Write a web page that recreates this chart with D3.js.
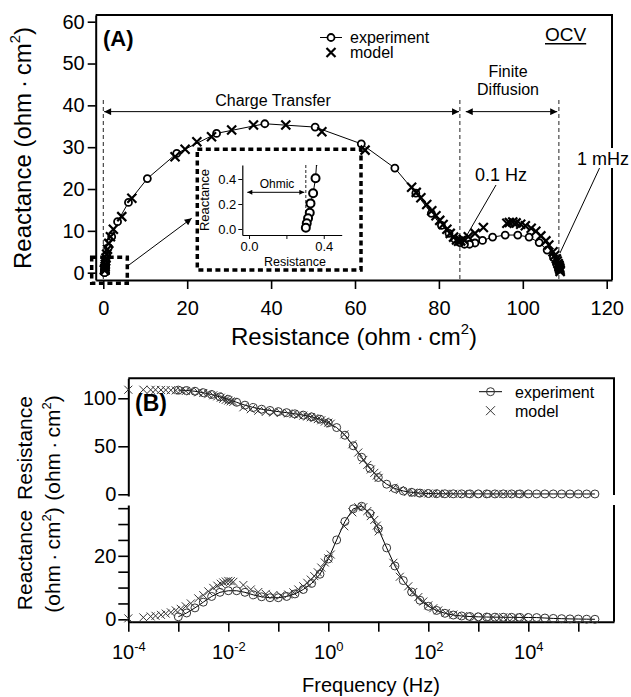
<!DOCTYPE html>
<html>
<head>
<meta charset="utf-8">
<script src="https://cdn.jsdelivr.net/npm/d3@7"></script>
<style>
  body { margin: 0; background: #fff; }
  svg { font-family: "Liberation Sans", Arial, sans-serif; }
</style>
</head>
<body>
<svg id="chart" width="631" height="697"></svg>
<script>
// experiment: frequency (Hz), resistance and reactance (ohm·cm2)
const expFreq = [0.001, 0.00147, 0.00215, 0.00316, 0.00464, 0.00681, 0.01, 0.0147, 0.0215, 0.0316,
  0.0464, 0.0681, 0.1, 0.147, 0.215, 0.316, 0.464, 0.681, 1, 1.47,
  2.15, 3.16, 4.64, 6.81, 10, 14.7, 21.5, 31.6, 46.4, 68.1,
  100, 147, 215, 316, 464, 681, 1000, 1470, 2150, 3160,
  4640, 6810, 10000, 14700, 21500, 31600, 46400, 68100, 100000, 147000, 215000];
const expRes = [108.5, 108.1, 107.3, 105.8, 103.9, 101.5, 98.8, 95.8, 92.8, 90.4,
  88.6, 87.3, 86.1, 85.0, 83.8, 82.4, 80.6, 78.2, 74.5, 69.5,
  61.5, 50.5, 38.5, 27.0, 17.5, 10.5, 6.0, 3.4, 2.0, 1.2,
  0.8, 0.6, 0.5, 0.45, 0.42, 0.4, 0.39, 0.385, 0.38, 0.375,
  0.372, 0.37, 0.367, 0.363, 0.356, 0.343, 0.329, 0.325, 0.316, 0.309, 0.304];
const expReac = [0.8, 2.0, 3.6, 5.4, 7.2, 8.5, 9.0, 9.0, 8.5, 7.7,
  7.1, 6.8, 6.8, 7.2, 8.0, 9.4, 11.3, 14.2, 19.0, 25.0,
  30.8, 34.8, 35.6, 33.3, 28.5, 22.5, 16.8, 12.2, 8.6, 6.0,
  4.1, 2.8, 1.9, 1.35, 1.05, 0.88, 0.78, 0.72, 0.68, 0.65,
  0.62, 0.6, 0.58, 0.55, 0.406, 0.286, 0.205, 0.13, 0.086, 0.046, 0.01];

// model
const modelFreq = [0.0001, 0.0002, 0.00028, 0.00035, 0.00045, 0.00056, 0.00071, 0.00089, 0.00112, 0.00141,
  0.00178, 0.00251, 0.00316, 0.00398, 0.00501, 0.00603, 0.00708, 0.00794, 0.00891, 0.01,
  0.0112, 0.0126, 0.02, 0.0282, 0.0398, 0.0562, 0.0794, 0.112, 0.158, 0.2,
  0.251, 0.316, 0.38, 0.447, 0.525, 0.617, 0.724, 0.851, 1, 1.12,
  2.09, 3.02, 3.98, 5.01, 6.03, 7.08, 8.32, 9.33, 10.2, 20,
  26.9, 39.8, 50.1, 63.1, 79.4, 100, 126, 158, 224, 316,
  501, 794, 1259, 1995, 3162, 5012, 7943];
const modelRes = [108.9, 108.9, 108.8, 108.8, 108.7, 108.6, 108.4, 108.2, 108.0, 107.6,
  107.2, 106.2, 105.5, 104.3, 103.1, 102.0, 100.6, 99.5, 98.4, 97.6,
  96.8, 96.2, 90.6, 88.6, 87.0, 85.8, 85.2, 84.7, 84.2, 83.5,
  82.7, 81.9, 81.0, 80.2, 79.3, 78.3, 77.1, 75.7, 74.6, 73.5,
  62.4, 52.1, 43.5, 35.8, 30.6, 25.8, 22.3, 19.5, 17.1, 6.8,
  4.4, 2.4, 1.7, 1.3, 1.0, 0.8, 0.65, 0.56, 0.48, 0.43,
  0.4, 0.38, 0.37, 0.36, 0.36, 0.36, 0.36];
const modelReac = [0.3, 0.6, 0.9, 1.1, 1.4, 1.8, 2.2, 2.8, 3.3, 4.1,
  5.0, 6.6, 7.6, 8.8, 9.9, 10.6, 11.2, 11.6, 11.9, 12.1,
  12.0, 11.8, 10.8, 9.4, 8.6, 8.0, 7.6, 7.5, 7.8, 8.5,
  9.4, 10.4, 11.5, 12.5, 13.6, 14.8, 16.3, 17.9, 19.2, 20.4,
  29.3, 33.7, 35.3, 35.3, 34.1, 32.5, 31.3, 29.5, 27.7, 17.8,
  13.4, 10.4, 8.6, 7.0, 5.6, 4.4, 3.5, 2.8, 2.0, 1.5,
  1.05, 0.85, 0.75, 0.68, 0.64, 0.61, 0.59];

const xTicksA = [0, 20, 40, 60, 80, 100, 120];
const yTicksA = [0, 10, 20, 30, 40, 50, 60];
const insetTicks = [0, 0.2, 0.4];
const freqTicks = [1e-4, 1e-3, 1e-2, 1e-1, 1, 10, 100, 1e3, 1e4, 1e5];
const resTicksB = [0, 50, 100];
const reacTicksB = [0, 5, 10, 15, 20, 25, 30, 35];

const expPts = expFreq.map((f, i) => ({ f: f, r: expRes[i], x: expReac[i] }));
const modelPts = modelFreq.map((f, i) => ({ f: f, r: modelRes[i], x: modelReac[i] }));

const svg = d3.select("#chart");
const defs = svg.append("defs");
defs.append("marker").attr("id", "head")
  .attr("viewBox", "0 0 10 10").attr("refX", 10).attr("refY", 5)
  .attr("markerUnits", "userSpaceOnUse")
  .attr("markerWidth", 11).attr("markerHeight", 7)
  .attr("orient", "auto-start-reverse")
  .append("path").attr("d", "M0,0L10,5L0,10z").attr("fill", "#000");
defs.append("marker").attr("id", "headSmall")
  .attr("viewBox", "0 0 10 10").attr("refX", 10).attr("refY", 5)
  .attr("markerUnits", "userSpaceOnUse")
  .attr("markerWidth", 7).attr("markerHeight", 5)
  .attr("orient", "auto-start-reverse")
  .append("path").attr("d", "M0,0L10,5L0,10z").attr("fill", "#000");

function unitLabel(t, sup) {
  t.append("tspan").text("(ohm\u2009·\u2009cm");
  t.append("tspan").attr("dy", -sup).attr("font-size", "0.62em").text("2");
  t.append("tspan").attr("dy", sup).text(")");
}
function styleAxis(g, fs, w) {
  g.select(".domain").attr("stroke-width", w);
  g.selectAll(".tick line").attr("stroke-width", w * 0.8);
  g.selectAll(".tick text").attr("font-size", fs).attr("fill", "#000");
}
const crossPath = s => `M${-s},${-s}L${s},${s}M${-s},${s}L${s},${-s}`;

// ---------------- panel A : Nyquist ----------------
const xA = d3.scaleLinear([-1.81, 121.26], [95.7, 612]);
const yA = d3.scaleLinear([-1.75, 61.6], [280, 15]);

const gA = svg.append("g");
gA.append("g").attr("transform", "translate(0,280)")
  .call(d3.axisBottom(xA).tickValues(xTicksA).tickSize(9).tickSizeOuter(0).tickPadding(12))
  .call(g => styleAxis(g, 20, 2));
gA.append("g").attr("transform", "translate(95.7,0)")
  .call(d3.axisLeft(yA).tickValues(yTicksA).tickSize(8).tickSizeOuter(0).tickPadding(3))
  .call(g => styleAxis(g, 20, 2));
gA.append("path").attr("d", "M95.7,15H612V280").attr("fill", "none").attr("stroke", "#000").attr("stroke-width", 2);

gA.append("text").attr("x", 354).attr("y", 345).attr("text-anchor", "middle").attr("font-size", 24)
  .call(t => { t.append("tspan").text("Resistance "); unitLabel(t, 11); });
gA.append("text").attr("transform", "translate(31,148) rotate(-90)").attr("text-anchor", "middle").attr("font-size", 24)
  .call(t => { t.append("tspan").text("Reactance "); unitLabel(t, 11); });

// dashed region markers and arrows
[0, 85, 108.6].forEach(v => {
  gA.append("line").attr("x1", xA(v)).attr("x2", xA(v)).attr("y1", 100).attr("y2", 280)
    .attr("stroke", "#222").attr("stroke-dasharray", "4,3");
});
gA.append("line").attr("x1", xA(0.2)).attr("x2", xA(84.8)).attr("y1", yA(38.5)).attr("y2", yA(38.5))
  .attr("stroke", "#000").attr("marker-start", "url(#head)").attr("marker-end", "url(#head)");
gA.append("line").attr("x1", xA(86.4)).attr("x2", xA(108.2)).attr("y1", yA(38.5)).attr("y2", yA(38.5))
  .attr("stroke", "#000").attr("marker-start", "url(#head)").attr("marker-end", "url(#head)");
gA.append("text").attr("x", 273).attr("y", 106).attr("text-anchor", "middle").attr("font-size", 16).text("Charge Transfer");
gA.append("text").attr("x", 508).attr("y", 77).attr("text-anchor", "middle").attr("font-size", 16).text("Finite");
gA.append("text").attr("x", 508).attr("y", 95).attr("text-anchor", "middle").attr("font-size", 16).text("Diffusion");

// data
gA.append("path").datum(expPts)
  .attr("d", d3.line().x(d => xA(d.r)).y(d => yA(d.x)))
  .attr("fill", "none").attr("stroke", "#000").attr("stroke-width", 1);
gA.append("g").selectAll("circle").data(expPts).join("circle")
  .attr("cx", d => xA(d.r)).attr("cy", d => yA(d.x)).attr("r", 3.5)
  .attr("fill", "#fff").attr("stroke", "#000").attr("stroke-width", 1.8);
gA.append("g").selectAll("path").data(modelPts).join("path")
  .attr("transform", d => `translate(${xA(d.r)},${yA(d.x)})`)
  .attr("d", crossPath(4.5)).attr("stroke", "#000").attr("stroke-width", 2.2).attr("fill", "none");

// labels for frequencies
gA.append("line").attr("x1", 496).attr("y1", 185).attr("x2", 467).attr("y2", 235).attr("stroke", "#000");
gA.append("text").attr("x", 501).attr("y", 180.5).attr("text-anchor", "middle").attr("font-size", 18).text("0.1 Hz");
gA.append("line").attr("x1", 600).attr("y1", 167).attr("x2", 560).attr("y2", 253).attr("stroke", "#000");
gA.append("rect").attr("x", 575).attr("y", 148).attr("width", 56).attr("height", 20).attr("fill", "#fff");
gA.append("text").attr("x", 577).attr("y", 164.5).attr("font-size", 18).text("1 mHz");

// legend + labels
gA.append("text").attr("x", 103).attr("y", 46).attr("font-size", 22).attr("font-weight", "bold").text("(A)");
gA.append("line").attr("x1", 320).attr("x2", 342).attr("y1", 37.5).attr("y2", 37.5).attr("stroke", "#000");
gA.append("circle").attr("cx", 331).attr("cy", 37.5).attr("r", 3.5).attr("fill", "#fff").attr("stroke", "#000").attr("stroke-width", 1.8);
gA.append("text").attr("x", 350).attr("y", 42.5).attr("font-size", 16).text("experiment");
gA.append("path").attr("transform", "translate(331,52.5)").attr("d", crossPath(4.5)).attr("stroke", "#000").attr("stroke-width", 2.2);
gA.append("text").attr("x", 350).attr("y", 58).attr("font-size", 16).text("model");
const ocv = gA.append("text").attr("x", 545).attr("y", 41).attr("font-size", 19).text("OCV");
gA.append("line").attr("x1", 545).attr("x2", 545 + ocv.node().getComputedTextLength())
  .attr("y1", 43.8).attr("y2", 43.8).attr("stroke", "#000").attr("stroke-width", 1.6);

// zoom boxes
const boxStyle = s => s.attr("fill", "none").attr("stroke", "#000").attr("stroke-width", 3.5).attr("stroke-dasharray", "5,3.5");
gA.append("rect").attr("x", 91.7).attr("y", 257.3).attr("width", 35.6).attr("height", 26).call(boxStyle);
gA.append("rect").attr("x", 197.3).attr("y", 149.3).attr("width", 163.7).attr("height", 120.7).call(boxStyle);
gA.append("line").attr("x1", 126.7).attr("y1", 266.7).attr("x2", 191.7).attr("y2", 218.3)
  .attr("stroke", "#000").attr("marker-end", "url(#head)");

// inset
const xI = d3.scaleLinear([-0.036, 0.496], [242.3, 341.7]);
const yI = d3.scaleLinear([-0.048, 0.512], [235, 165]);
const gI = svg.append("g");
defs.append("clipPath").attr("id", "insetClip").append("rect")
  .attr("x", 242.3).attr("y", 165).attr("width", 99.4).attr("height", 70);
gI.append("g").attr("transform", "translate(0,235)")
  .call(d3.axisBottom(xI).tickValues(insetTicks).tickSize(4).tickSizeOuter(0).tickPadding(3)
    .tickFormat(d => d === 0.2 ? "" : d3.format(".1f")(d)))
  .call(g => styleAxis(g, 13, 1.2));
gI.append("g").attr("transform", "translate(242.3,0)")
  .call(d3.axisLeft(yI).tickValues(insetTicks).tickSize(4).tickSizeOuter(0).tickPadding(2).tickFormat(d3.format(".1f")))
  .call(g => styleAxis(g, 13, 1.2));
gI.append("text").attr("x", 295).attr("y", 266).attr("text-anchor", "middle").attr("font-size", 12.5).text("Resistance");
gI.append("text").attr("transform", "translate(208.5,200) rotate(-90)").attr("text-anchor", "middle").attr("font-size", 13).text("Reactance");
gI.append("text").attr("x", 277).attr("y", 187.5).attr("text-anchor", "middle").attr("font-size", 12).text("Ohmic");
gI.append("line").attr("x1", 247.3).attr("x2", 304.3).attr("y1", 192.3).attr("y2", 192.3)
  .attr("stroke", "#000").attr("marker-start", "url(#headSmall)").attr("marker-end", "url(#headSmall)");
gI.append("line").attr("x1", xI(0.304)).attr("x2", xI(0.304)).attr("y1", 165).attr("y2", 228)
  .attr("stroke", "#222").attr("stroke-dasharray", "3,2");
const gIData = gI.append("g").attr("clip-path", "url(#insetClip)");
gIData.append("path").datum(expPts)
  .attr("d", d3.line().x(d => xI(d.r)).y(d => yI(d.x)))
  .attr("fill", "none").attr("stroke", "#000").attr("stroke-width", 1);
gIData.selectAll("circle").data(expPts).join("circle")
  .attr("cx", d => xI(d.r)).attr("cy", d => yI(d.x)).attr("r", 4)
  .attr("fill", "#fff").attr("stroke", "#000").attr("stroke-width", 2);

// ---------------- panel B : Bode ----------------
const xB = d3.scaleLog([1e-4, Math.pow(10, 5.714)], [128.3, 614]);
const yBr = d3.scaleLinear([-1.8, 120.8], [496, 378.3]);
const yBx = d3.scaleLinear([-0.75, 36.0], [621.7, 505]);

const gB = svg.append("g");
gB.append("g").attr("transform", "translate(0,621.7)")
  .call(d3.axisBottom(xB).tickValues(freqTicks).tickSize(10).tickSizeOuter(0).tickPadding(13))
  .call(g => styleAxis(g, 20, 2))
  .call(g => g.selectAll(".tick text").each(function (d) {
    const e = Math.round(Math.log10(d));
    const t = d3.select(this).text("");
    if (e % 2 !== 0) return;
    t.append("tspan").text("10");
    t.append("tspan").attr("dy", "-0.6em").attr("font-size", "0.65em").text(e);
  }));
gB.append("g").attr("transform", "translate(128.3,0)")
  .call(d3.axisLeft(yBr).tickValues(resTicksB).tickSize(10).tickSizeOuter(0).tickPadding(2))
  .call(g => styleAxis(g, 20, 2));
gB.append("g").attr("transform", "translate(128.3,0)")
  .call(d3.axisLeft(yBx).tickValues(reacTicksB).tickSize(10).tickSizeOuter(0).tickPadding(2)
    .tickFormat(d => d % 20 === 0 ? d : ""))
  .call(g => styleAxis(g, 20, 2));
gB.append("path").attr("d", "M128.3,378.3H614V495").attr("fill", "none").attr("stroke", "#000").attr("stroke-width", 2);
gB.append("line").attr("x1", 614).attr("x2", 614).attr("y1", 505).attr("y2", 621.7).attr("stroke", "#000").attr("stroke-width", 2);

gB.append("text").attr("x", 371).attr("y", 692).attr("text-anchor", "middle").attr("font-size", 20).text("Frequency (Hz)");
gB.append("text").attr("transform", "translate(32,448) rotate(-90)").attr("text-anchor", "middle").attr("font-size", 21).text("Resistance");
gB.append("text").attr("transform", "translate(60,448) rotate(-90)").attr("text-anchor", "middle").attr("font-size", 21)
  .call(t => unitLabel(t, 9));
gB.append("text").attr("transform", "translate(32,560) rotate(-90)").attr("text-anchor", "middle").attr("font-size", 21).text("Reactance");
gB.append("text").attr("transform", "translate(60,560) rotate(-90)").attr("text-anchor", "middle").attr("font-size", 21)
  .call(t => unitLabel(t, 9));

const series = [
  { y: yBr, key: "r" },
  { y: yBx, key: "x" }
];
series.forEach(s => {
  gB.append("path").datum(expPts)
    .attr("d", d3.line().x(d => xB(d.f)).y(d => s.y(d[s.key])))
    .attr("fill", "none").attr("stroke", "#000").attr("stroke-width", 1);
  gB.append("g").selectAll("circle").data(expPts).join("circle")
    .attr("cx", d => xB(d.f)).attr("cy", d => s.y(d[s.key])).attr("r", 4)
    .attr("fill", "none").attr("stroke", "#333").attr("stroke-width", 1);
  gB.append("g").selectAll("path").data(modelPts).join("path")
    .attr("transform", d => `translate(${xB(d.f)},${s.y(d[s.key])})`)
    .attr("d", crossPath(4)).attr("stroke", "#333").attr("stroke-width", 1).attr("fill", "none");
});

gB.append("text").attr("x", 135).attr("y", 411).attr("font-size", 23).attr("font-weight", "bold").text("(B)");
gB.append("line").attr("x1", 479).attr("x2", 502).attr("y1", 391.7).attr("y2", 391.7).attr("stroke", "#000");
gB.append("circle").attr("cx", 490.5).attr("cy", 391.7).attr("r", 4).attr("fill", "none").attr("stroke", "#333");
gB.append("text").attr("x", 515).attr("y", 397.5).attr("font-size", 16).text("experiment");
gB.append("path").attr("transform", "translate(490.5,410.7)").attr("d", crossPath(4.5)).attr("stroke", "#333");
gB.append("text").attr("x", 515).attr("y", 416.5).attr("font-size", 16).text("model");
</script>
</body>
</html>
